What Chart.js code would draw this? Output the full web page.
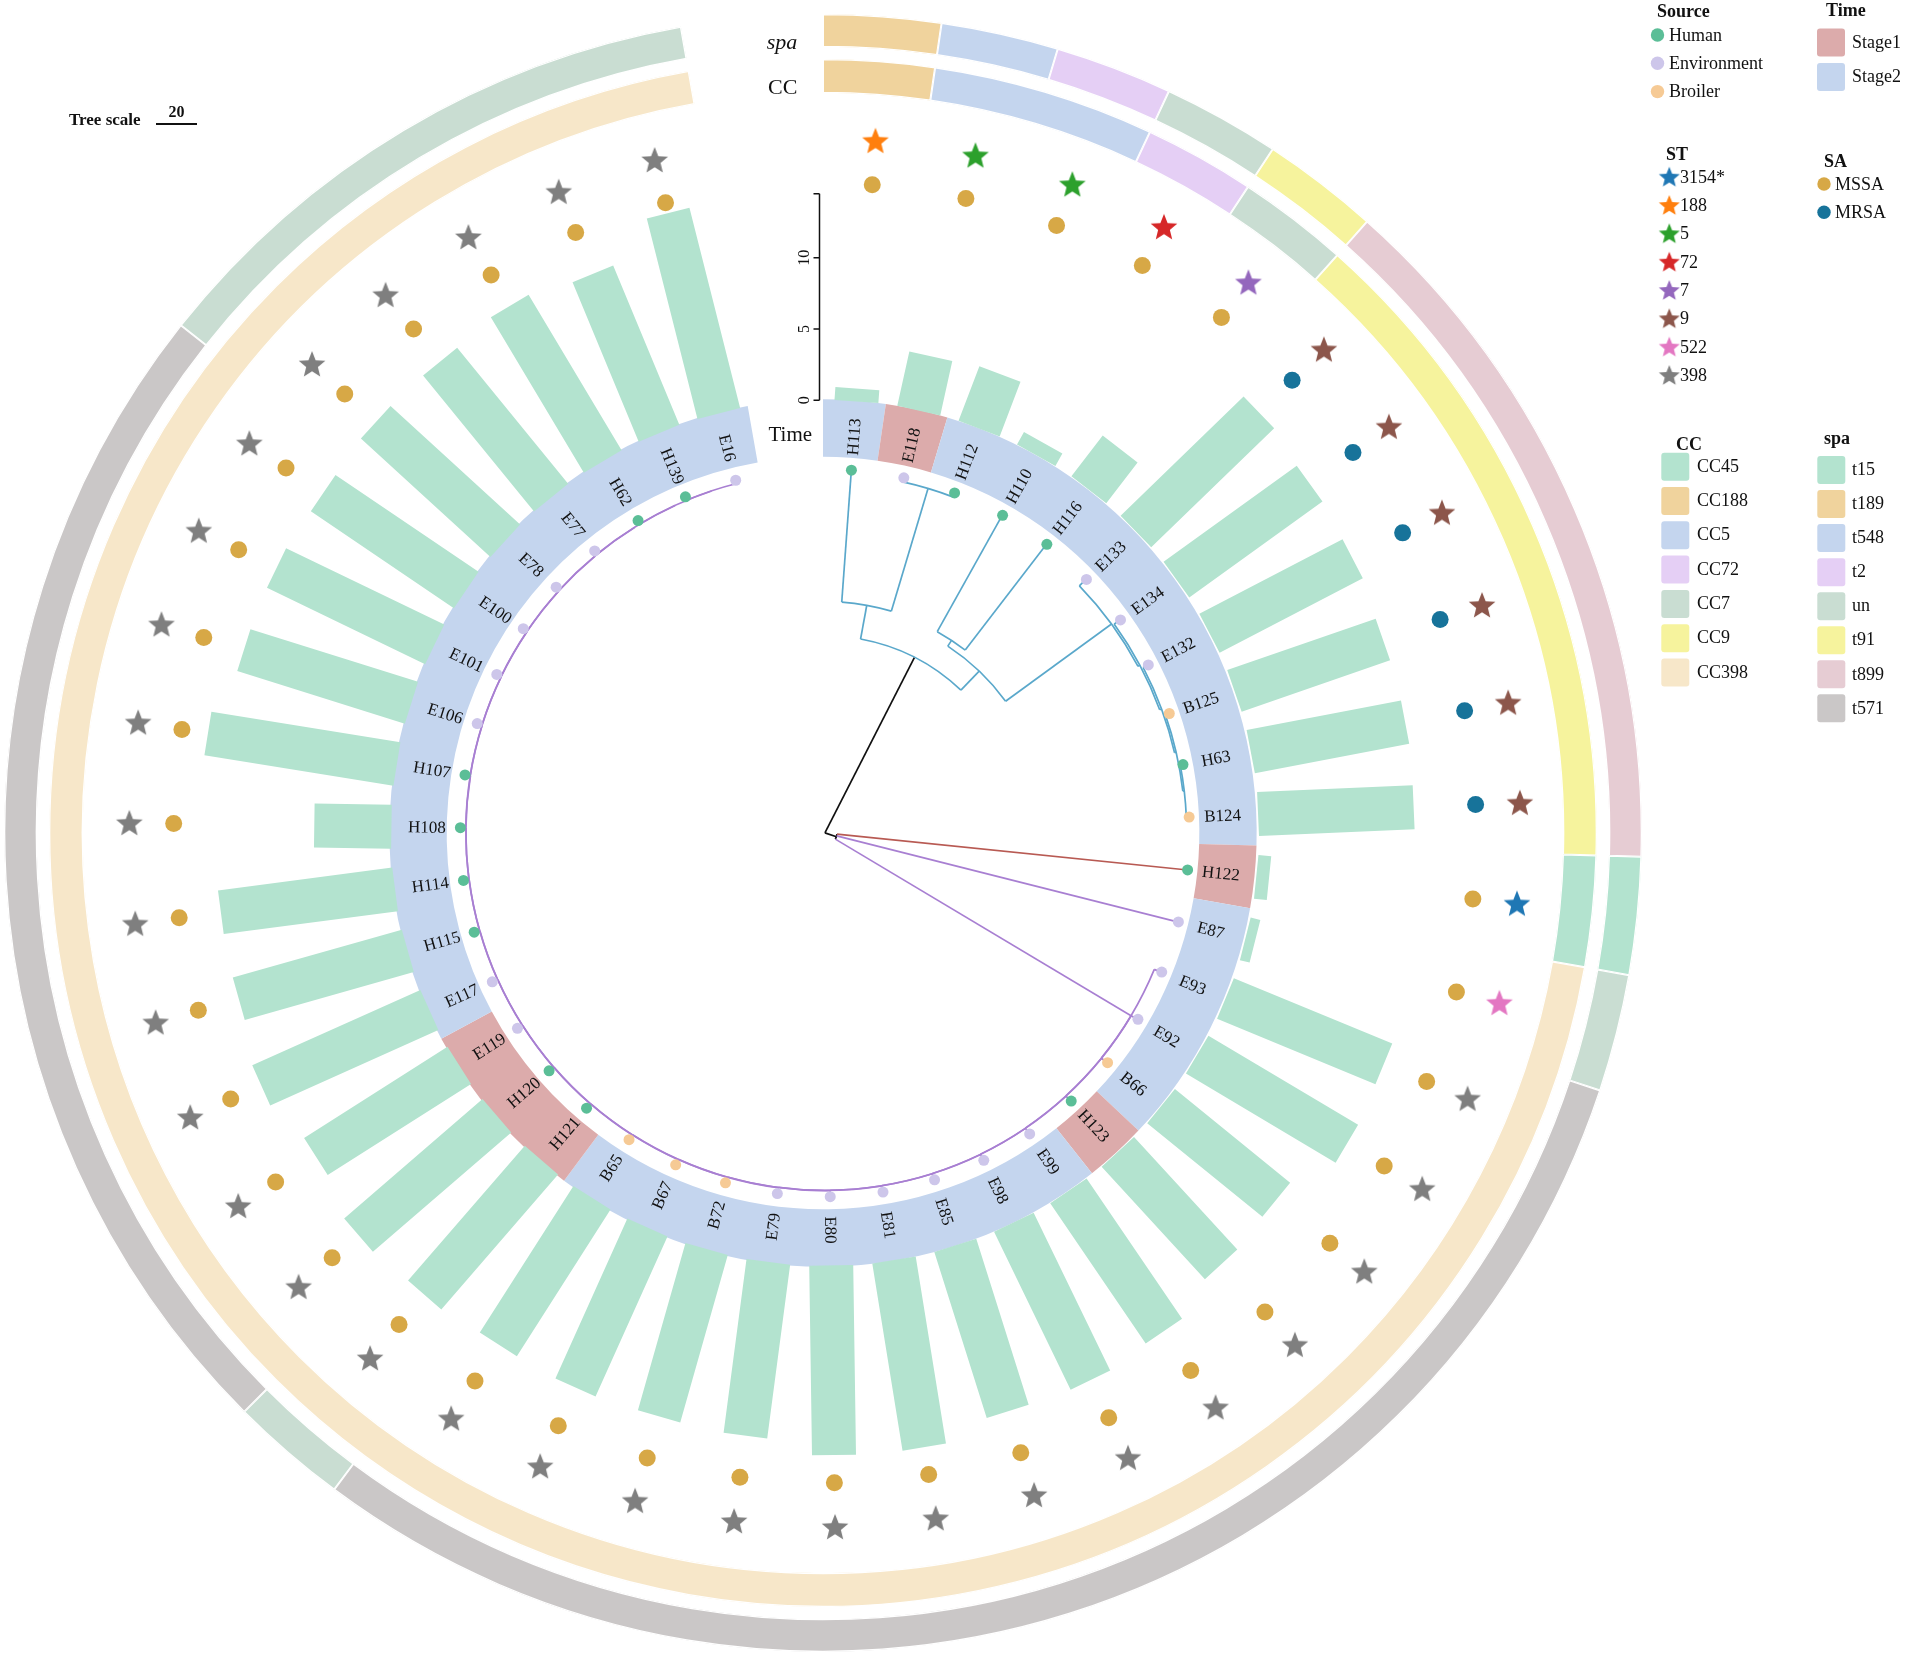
<!DOCTYPE html>
<html>
<head>
<meta charset="utf-8">
<script src="https://cdn.jsdelivr.net/npm/chart.js@4.4.1/dist/chart.umd.min.js"></script>
<style>
  html, body { margin: 0; padding: 0; background: #fff; }
  #wrap { position: relative; width: 1908px; height: 1657px; }
  #wrap canvas { position: absolute; left: 0; top: 0; }
</style>
</head>
<body>
<div id="wrap">
  <canvas id="rings" width="1908" height="1657"></canvas>
  <canvas id="tree" width="1908" height="1657"></canvas>
</div>
<script>
// Circular tree with Time / CC / spa rings, bar ring and ST / SA symbols

// ---------- data (leaf order clockwise from 12 o'clock) ----------
const leaves = ["H113","E118","H112","H110","H116","E133","E134","E132","B125","H63","B124","H122","E87",
  "E93","E92","B66","H123","E99","E98","E85","E81","E80","E79","B72","B67","B65","H121","H120","E119",
  "E117","H115","H114","H108","H107","E106","E101","E100","E78","E77","H62","H139","E16"];

const barValues = [0.9, 3.9, 4.1, 1.0, 3.6, 12.0, 11.5, 11.3, 11.0, 11.0, 10.9, 0.9, 0.7,
  12.0, 12.2, 10.4, 10.7, 11.9, 12.3, 12.2, 13.3, 13.3, 12.3, 12.2, 12.3, 12.2, 12.5, 12.8, 11.9,
  12.9, 12.3, 12.3, 5.4, 13.4, 12.3, 12.3, 12.1, 12.3, 12.3, 12.7, 12.1, 14.5];
const barTicks = [0, 5, 10];

const timeStage = ["Stage2","Stage1","Stage2","Stage2","Stage2","Stage2","Stage2","Stage2","Stage2","Stage2","Stage2","Stage1","Stage2",
  "Stage2","Stage2","Stage2","Stage1","Stage2","Stage2","Stage2","Stage2","Stage2","Stage2","Stage2","Stage2","Stage2","Stage1","Stage1","Stage1",
  "Stage2","Stage2","Stage2","Stage2","Stage2","Stage2","Stage2","Stage2","Stage2","Stage2","Stage2","Stage2","Stage2"];

const ccType = ["CC188","CC5","CC5","CC72","CC7","CC9","CC9","CC9","CC9","CC9","CC9","CC45","CC398",
  "CC398","CC398","CC398","CC398","CC398","CC398","CC398","CC398","CC398","CC398","CC398","CC398","CC398","CC398","CC398","CC398",
  "CC398","CC398","CC398","CC398","CC398","CC398","CC398","CC398","CC398","CC398","CC398","CC398","CC398"];

const spaType = ["t189","t548","t2","un","t91","t899","t899","t899","t899","t899","t899","t15","un",
  "t571","t571","t571","t571","t571","t571","t571","t571","t571","t571","t571","t571","t571","un","t571","t571",
  "t571","t571","t571","t571","t571","t571","t571","t571","un","un","un","un","un"];

const stType = ["188","5","5","72","7","9","9","9","9","9","9","3154*","522",
  "398","398","398","398","398","398","398","398","398","398","398","398","398","398","398","398",
  "398","398","398","398","398","398","398","398","398","398","398","398","398"];

const saType = ["MSSA","MSSA","MSSA","MSSA","MSSA","MRSA","MRSA","MRSA","MRSA","MRSA","MRSA","MSSA","MSSA",
  "MSSA","MSSA","MSSA","MSSA","MSSA","MSSA","MSSA","MSSA","MSSA","MSSA","MSSA","MSSA","MSSA","MSSA","MSSA","MSSA",
  "MSSA","MSSA","MSSA","MSSA","MSSA","MSSA","MSSA","MSSA","MSSA","MSSA","MSSA","MSSA","MSSA"];

// legend entries, in the order shown
const sourceLegend = ["Human", "Environment", "Broiler"];
const timeLegend = ["Stage1", "Stage2"];
const stLegend = ["3154*", "188", "5", "72", "7", "9", "522", "398"];
const saLegend = ["MSSA", "MRSA"];
const ccLegend = ["CC45", "CC188", "CC5", "CC72", "CC7", "CC9", "CC398"];
const spaLegend = ["t15", "t189", "t548", "t2", "un", "t91", "t899", "t571"];

// tree with branch lengths (tree-scale units)
const treeNewick = "(((H113:66,(E118:2.5,H112:2.5):63.4)X:17,((H110:66.4,H116:66.4)HH:3.4," +
  "(E133:4.9,(E134:3.9,(E132:2.9,(B125:2.1,(H63:1.4,B124:1.4):0.7):0.8):1):1)Z:64.9)Y:13.1)A:97.6," +
  "(H122:174.5,E87:174.5,(E93:4,(E92:3.9,(B66:3.8,(H123:3.7,(E99:3.6,(E98:3.5,(E85:3.5,(E81:3.4,(E80:3.3," +
  "(E79:3.2,(B72:3.2,(B67:3.1,(B65:3,(H121:2.9,(H120:2.9,(E119:2.8,(E117:2.7,(H115:2.6,(H114:2.6,(H108:2.5," +
  "(H107:2.4,(E106:2.3,(E101:2.3,(E100:2.2,(E78:2.1,(E77:2,(H62:2,(H139:1.9,E16:1.9)" +
  ":0.07):0.07):0.07):0.07):0.07):0.07):0.07):0.07):0.07" +
  "):0.07):0.07):0.07):0.07):0.07):0.07):0.07):0.07):0.07" +
  "):0.07):0.07):0.07):0.07):0.07):0.07):0.07):0.07):0.07" +
  ")P:170.5)R1:6);";
const treeScaleValue = 20;

// ---------- styles ----------
const SOURCE_COLORS = { Human: "#5bbe97", Environment: "#cdc6ea", Broiler: "#f6ca95" };
const SOURCE_BY_PREFIX = { H: "Human", E: "Environment", B: "Broiler" };
const TIME_COLORS = { Stage1: "#dcabab", Stage2: "#c4d5ee" };
const CC_COLORS = { CC45: "#b3e3cf", CC188: "#f0d39d", CC5: "#c4d5ee", CC72: "#e5cff5", CC7: "#c9ddd2", CC9: "#f6f39d", CC398: "#f7e7c9" };
const SPA_COLORS = { t15: "#b3e3cf", t189: "#f0d39d", t548: "#c4d5ee", t2: "#e5cff5", un: "#c9ddd2", t91: "#f6f39d", t899: "#e6ccd3", t571: "#cac7c7" };
const ST_COLORS = { "3154*": "#1f77b4", "188": "#ff7f0e", "5": "#2ca02c", "72": "#d62728", "7": "#9467bd", "9": "#8c564b", "522": "#e377c2", "398": "#7f7f7f" };
const SA_COLORS = { MSSA: "#d7a846", MRSA: "#17739a" };
const BAR_COLOR = "#b3e3cf";
const CLADE_COLORS = {
  A: { stem: "#111111", clade: "#5aa8cb" },
  H122: { stem: "#b85a53" },
  E87: { stem: "#a87fd2" },
  P: { stem: "#a87fd2", clade: "#a87fd2" }
};
const SERIF = '"Liberation Serif", "Times New Roman", serif';

// ---------- geometry (px from the centre) ----------
const CX = 823, CY = 833;
const ARC_START = 0, ARC_SPAN = 350;
const TIP_R = 370, LABEL_R = 404;
const TIME_IN = 376, TIME_OUT = 434;
const CC_IN = 740, CC_OUT = 774, SPA_IN = 786, SPA_OUT = 819;
const BAR_BASE = 440, BAR_UNIT = 14.5, BAR_WIDTH = 44;
const SA_R = 661, ST_R = 706;
const TREE_PX = 2.05;

const leafAngle = i => ARC_START + (i + 0.5) * ARC_SPAN / leaves.length;
const polar = (deg, r) => { const a = deg * Math.PI / 180; return { x: r * Math.sin(a), y: r * Math.cos(a) }; };

function runs(arr) {
  const out = [];
  arr.forEach(v => {
    if (out.length && out[out.length - 1].label === v) out[out.length - 1].count++;
    else out.push({ label: v, count: 1 });
  });
  return out;
}

// ---------- tree ----------
function parseNewick(s) {
  let i = 0;
  function node() {
    const n = { name: "", len: 0, children: [] };
    if (s[i] === "(") {
      i++;
      n.children.push(node());
      while (s[i] === ",") { i++; n.children.push(node()); }
      i++;
    }
    let name = "";
    while (i < s.length && !",():;".includes(s[i])) name += s[i++];
    n.name = name.trim();
    if (s[i] === ":") {
      i++;
      let num = "";
      while (i < s.length && !",();".includes(s[i])) num += s[i++];
      n.len = parseFloat(num);
    }
    return n;
  }
  return node();
}

const treeRoot = parseNewick(treeNewick);
(function layout(n, depth, color) {
  n.depth = depth + n.len;
  const style = CLADE_COLORS[n.name] || {};
  n.color = style.clade || style.stem || color;
  n.stemColor = style.stem || color;
  if (!n.children.length) {
    n.angle = leafAngle(leaves.indexOf(n.name));
    n.r = TIP_R;
  } else {
    n.children.forEach(c => layout(c, n.depth, n.color));
    n.angle = (n.children[0].angle + n.children[n.children.length - 1].angle) / 2;
    n.r = n.depth * TREE_PX;
  }
})(treeRoot, 0, "#111111");

// ---------- symbols ----------
function starImage(color, R) {
  const c = document.createElement("canvas");
  const s = Math.ceil(R * 2 + 2);
  c.width = c.height = s;
  const g = c.getContext("2d");
  g.translate(s / 2, s / 2 + R * 0.08);
  g.beginPath();
  for (let k = 0; k < 10; k++) {
    const rr = k % 2 ? R * 0.44 : R;
    const a = -Math.PI / 2 + k * Math.PI / 5;
    g.lineTo(rr * Math.cos(a), rr * Math.sin(a));
  }
  g.closePath();
  g.fillStyle = color;
  g.fill();
  return c;
}
const starsBig = {}, starsSmall = {};
Object.keys(ST_COLORS).forEach(k => { starsBig[k] = starImage(ST_COLORS[k], 14); starsSmall[k] = starImage(ST_COLORS[k], 11); });

// ---------- ring chart ----------
const timeRuns = runs(timeStage), ccRuns = runs(ccType), spaRuns = runs(spaType);
const clear = "rgba(0,0,0,0)";

new Chart(document.getElementById("rings"), {
  type: "doughnut",
  data: {
    datasets: [
      { data: spaRuns.map(r => r.count), backgroundColor: spaRuns.map(r => SPA_COLORS[r.label]),
        borderColor: "#ffffff", borderWidth: 1, borderAlign: "inner", weight: SPA_OUT - SPA_IN },
      { data: [1], backgroundColor: clear, borderWidth: 0, borderAlign: "inner", weight: SPA_IN - CC_OUT },
      { data: ccRuns.map(r => r.count), backgroundColor: ccRuns.map(r => CC_COLORS[r.label]),
        borderColor: "#ffffff", borderWidth: 1, borderAlign: "inner", weight: CC_OUT - CC_IN },
      { data: [1], backgroundColor: clear, borderWidth: 0, borderAlign: "inner", weight: CC_IN - TIME_OUT },
      { data: timeRuns.map(r => r.count), backgroundColor: timeRuns.map(r => TIME_COLORS[r.label]),
        borderWidth: 0, borderAlign: "inner", weight: TIME_OUT - TIME_IN }
    ]
  },
  options: {
    responsive: false,
    animation: false,
    events: [],
    rotation: ARC_START,
    circumference: ARC_SPAN,
    radius: SPA_OUT,
    cutout: TIME_IN,
    layout: { padding: { left: CX - SPA_OUT, top: CY - SPA_OUT, right: 1908 - CX - SPA_OUT, bottom: 1657 - CY - SPA_OUT } },
    plugins: { legend: { display: false }, tooltip: { enabled: false } }
  }
});

// ---------- tree / bars / symbols chart ----------
const barPoints = [];
barValues.forEach((v, i) => {
  barPoints.push(polar(leafAngle(i), BAR_BASE), polar(leafAngle(i), BAR_BASE + v * BAR_UNIT), { x: null, y: null });
});
const tipPoints = leaves.map((n, i) => polar(leafAngle(i), TIP_R));
const tipColors = leaves.map(n => SOURCE_COLORS[SOURCE_BY_PREFIX[n[0]]]);
const saPoints = saType.map((s, i) => polar(leafAngle(i), SA_R));
const stPoints = stType.map((s, i) => polar(leafAngle(i), ST_R));

const treePlugin = {
  id: "treeDraw",
  beforeDatasetsDraw(chart) {
    const { ctx, scales: { x, y } } = chart;
    const cx = x.getPixelForValue(0), cy = y.getPixelForValue(0);
    const k = x.getPixelForValue(1) - cx;
    const rad = d => (d - 90) * Math.PI / 180;
    ctx.save();
    ctx.lineWidth = 1.7;
    (function draw(n, parentR) {
      const a = rad(n.angle);
      if (n !== treeRoot) {
        ctx.strokeStyle = n.stemColor;
        ctx.beginPath();
        ctx.moveTo(cx + parentR * k * Math.cos(a), cy + parentR * k * Math.sin(a));
        ctx.lineTo(cx + n.r * k * Math.cos(a), cy + n.r * k * Math.sin(a));
        ctx.stroke();
      }
      if (n.children.length) {
        ctx.strokeStyle = n.color;
        ctx.beginPath();
        ctx.arc(cx, cy, n.r * k, rad(n.children[0].angle), rad(n.children[n.children.length - 1].angle));
        ctx.stroke();
        n.children.forEach(c => draw(c, n.r));
      }
    })(treeRoot, 0);
    ctx.restore();
  }
};

const textPlugin = {
  id: "ringText",
  afterDatasetsDraw(chart) {
    const { ctx, scales: { x, y } } = chart;
    const px = p => ({ x: x.getPixelForValue(p.x), y: y.getPixelForValue(p.y) });
    ctx.save();
    ctx.fillStyle = "#111";
    // leaf labels on the Time ring
    ctx.font = "17px " + SERIF;
    ctx.textAlign = "center";
    ctx.textBaseline = "middle";
    leaves.forEach((name, i) => {
      const th = leafAngle(i);
      const p = px(polar(th, LABEL_R));
      ctx.save();
      ctx.translate(p.x, p.y);
      ctx.rotate(((th < 180 ? th - 90 : th - 270)) * Math.PI / 180);
      ctx.fillText(name, 0, 1);
      ctx.restore();
    });
    // ring titles
    ctx.textAlign = "right";
    ctx.font = "21px " + SERIF;
    let p = px({ x: -13, y: (TIME_IN + TIME_OUT) / 2 - 1 });
    ctx.fillText("Time", p.x, p.y);
    ctx.font = "22px " + SERIF;
    p = px({ x: -28, y: (CC_IN + CC_OUT) / 2 });
    ctx.fillText("CC", p.x, p.y);
    ctx.font = "italic 22px " + SERIF;
    p = px({ x: -28, y: (SPA_IN + SPA_OUT) / 2 + 1 });
    ctx.fillText("spa", p.x, p.y);
    // bar axis
    const axisX = -5.5;
    const maxV = Math.max(...barValues);
    const ay = v => y.getPixelForValue(BAR_BASE + v * BAR_UNIT);
    const ax = x.getPixelForValue(axisX);
    ctx.strokeStyle = "#111";
    ctx.lineWidth = 1.5;
    ctx.beginPath();
    ctx.moveTo(ax, ay(0));
    ctx.lineTo(ax, ay(maxV));
    barTicks.concat([maxV]).forEach(t => { ctx.moveTo(ax - 6, ay(t)); ctx.lineTo(ax, ay(t)); });
    ctx.stroke();
    ctx.font = "16px " + SERIF;
    ctx.textAlign = "center";
    barTicks.forEach(t => {
      ctx.save();
      ctx.translate(ax - 15, ay(t));
      ctx.rotate(-Math.PI / 2);
      ctx.fillText(String(t), 0, 0);
      ctx.restore();
    });
    ctx.restore();
  }
};

function roundRect(ctx, x, y, w, h, r) {
  ctx.beginPath();
  ctx.moveTo(x + r, y);
  ctx.arcTo(x + w, y, x + w, y + h, r);
  ctx.arcTo(x + w, y + h, x, y + h, r);
  ctx.arcTo(x, y + h, x, y, r);
  ctx.arcTo(x, y, x + w, y, r);
  ctx.closePath();
}

const legendPlugin = {
  id: "legendDraw",
  afterDraw(chart) {
    const ctx = chart.ctx;
    ctx.save();
    ctx.fillStyle = "#111";
    ctx.textBaseline = "middle";
    ctx.textAlign = "left";
    const title = (t, x, yy) => { ctx.font = "bold 18px " + SERIF; ctx.fillStyle = "#111"; ctx.fillText(t, x, yy); };
    const item = (t, x, yy) => { ctx.font = "18px " + SERIF; ctx.fillStyle = "#111"; ctx.fillText(t, x, yy); };
    const dot = (c, x, yy, r) => { ctx.fillStyle = c; ctx.beginPath(); ctx.arc(x, yy, r, 0, Math.PI * 2); ctx.fill(); };
    const box = (c, x, yy) => { ctx.fillStyle = c; roundRect(ctx, x, yy, 28, 28, 3); ctx.fill(); };

    title("Source", 1657, 12);
    sourceLegend.forEach((k, i) => { dot(SOURCE_COLORS[k], 1657.5, 35 + i * 28.3, 6.7); item(k, 1669, 36 + i * 28.3); });
    title("Time", 1826, 11);
    timeLegend.forEach((k, i) => { box(TIME_COLORS[k], 1817, 28.5 + i * 34.5); item(k, 1852, 43 + i * 34.5); });
    title("ST", 1666, 155);
    stLegend.forEach((k, i) => {
      const img = starsSmall[k];
      ctx.drawImage(img, 1669.3 - img.width / 2, 176.7 + i * 28.33 - img.height / 2);
      item(k, 1680, 178 + i * 28.33);
    });
    title("SA", 1824, 162);
    saLegend.forEach((k, i) => { dot(SA_COLORS[k], 1824, 184 + i * 28.3, 6.7); item(k, 1835, 185 + i * 28.3); });
    title("CC", 1676, 445);
    ccLegend.forEach((k, i) => { box(CC_COLORS[k], 1661.3, 452.7 + i * 34.3); item(k, 1697, 467 + i * 34.3); });
    title("spa", 1824, 439);
    spaLegend.forEach((k, i) => { box(SPA_COLORS[k], 1817.3, 456 + i * 34.05); item(k, 1852, 470.5 + i * 34.05); });

    // tree scale
    ctx.fillStyle = "#111";
    ctx.font = "bold 17px " + SERIF;
    ctx.textBaseline = "alphabetic";
    ctx.fillText("Tree scale", 69, 125);
    ctx.font = "bold 16px " + SERIF;
    ctx.textAlign = "center";
    const barLen = treeScaleValue * TREE_PX;
    ctx.fillText(String(treeScaleValue), 156 + barLen / 2, 117);
    ctx.strokeStyle = "#111";
    ctx.lineWidth = 2;
    ctx.beginPath();
    ctx.moveTo(156, 124);
    ctx.lineTo(156 + barLen, 124);
    ctx.stroke();
    ctx.restore();
  }
};

new Chart(document.getElementById("tree"), {
  type: "scatter",
  data: {
    datasets: [
      { type: "line", data: barPoints, borderColor: BAR_COLOR, borderWidth: BAR_WIDTH, borderCapStyle: "butt",
        pointRadius: 0, spanGaps: false, tension: 0, order: 4 },
      { data: tipPoints, pointRadius: 5.5, pointBackgroundColor: tipColors, pointBorderWidth: 0, order: 3 },
      { data: saPoints, pointRadius: 8.5, pointBackgroundColor: saType.map(s => SA_COLORS[s]), pointBorderWidth: 0, order: 2 },
      { data: stPoints, pointRadius: 13, pointStyle: stType.map(s => starsBig[s]), order: 1 }
    ]
  },
  options: {
    responsive: false,
    animation: false,
    events: [],
    layout: { padding: 0 },
    scales: {
      x: { type: "linear", min: -CX, max: 1908 - CX, display: false },
      y: { type: "linear", min: CY - 1657, max: CY, display: false }
    },
    plugins: { legend: { display: false }, tooltip: { enabled: false } }
  },
  plugins: [treePlugin, textPlugin, legendPlugin]
});
</script>
</body>
</html>
